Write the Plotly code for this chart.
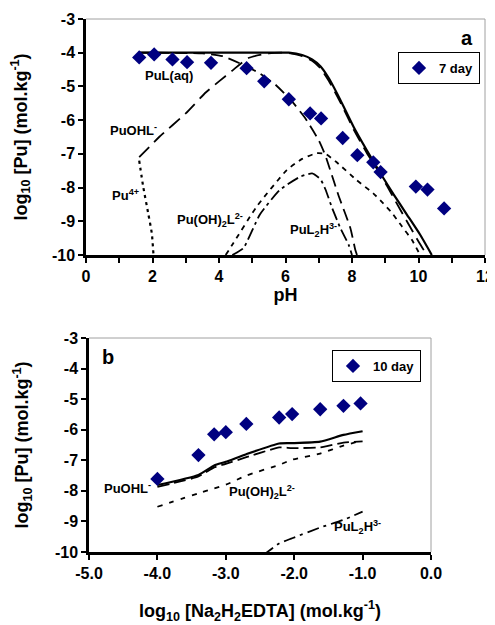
import plotly.graph_objects as go

# ---------------- Panel a: log10[Pu] vs pH ----------------
ph_obs = [1.6, 2.05, 2.6, 3.04, 3.76, 4.83, 5.36, 6.1, 6.74, 7.07, 7.72, 8.16, 8.64, 8.86, 9.92, 10.27, 10.77]
pu_obs7 = [-4.14, -4.05, -4.2, -4.28, -4.3, -4.46, -4.85, -5.38, -5.8, -5.95, -6.53, -7.04, -7.25, -7.54, -7.97, -8.06, -8.62]

ph_total = [1.6, 3.0, 4.5, 5.5, 6.1, 6.5, 6.8, 7.05, 7.3, 7.65, 8.05, 8.45, 8.9, 9.25, 9.65, 10.05, 10.4]
pu_total = [-4.0, -4.0, -4.0, -4.0, -4.0, -4.07, -4.2, -4.4, -4.75, -5.4, -6.2, -6.9, -7.65, -8.2, -8.8, -9.4, -10.0]

ph_puohl = [1.6, 2.2, 3.0, 3.6, 4.0, 4.4, 4.9, 5.5, 6.0, 6.5, 6.8, 7.05, 7.3, 7.65, 8.05, 8.45, 8.85, 9.25, 9.65, 10.0, 10.25]
pu_puohl = [-7.1, -6.5, -5.8, -5.18, -4.85, -4.53, -4.15, -4.02, -4.0, -4.1, -4.24, -4.46, -4.83, -5.47, -6.28, -6.98, -7.6, -8.3, -9.0, -9.6, -10.0]

ph_pul = [1.6, 3.5, 4.1, 4.7, 5.2, 5.7, 6.2, 6.6, 7.0, 7.2, 7.45, 7.6, 7.95, 8.1, 8.15]
pu_pul = [-4.0, -4.02, -4.1, -4.35, -4.6, -4.95, -5.45, -5.95, -6.6, -7.05, -7.8, -8.25, -9.2, -9.85, -10.0]

ph_pu4 = [1.6, 1.72, 1.87, 1.98, 2.03]
pu_pu4 = [-7.2, -7.97, -8.76, -9.36, -10.0]

ph_puoh2l = [4.2, 4.43, 5.13, 6.04, 6.5, 6.94, 7.2, 7.54, 8.14, 8.64, 8.94, 9.2, 9.5, 9.8, 10.05]
pu_puoh2l = [-10.0, -9.65, -8.57, -7.48, -7.15, -6.98, -7.0, -7.25, -7.78, -8.17, -8.47, -8.75, -9.15, -9.55, -10.0]

ph_pul2h = [4.4, 4.73, 5.23, 5.83, 6.44, 6.8, 7.05, 7.2, 7.4, 7.65, 7.9, 8.0]
pu_pul2h = [-10.0, -9.8, -8.8, -8.07, -7.68, -7.58, -7.75, -8.05, -8.6, -9.2, -9.7, -10.0]

# ---------------- Panel b: log10[Pu] vs log10[Na2H2EDTA] ----------------
edta_obs = [-4.0, -3.4, -3.17, -3.0, -2.7, -2.22, -2.03, -1.62, -1.28, -1.03]
pu_obs10 = [-7.61, -6.83, -6.15, -6.08, -5.81, -5.6, -5.49, -5.33, -5.22, -5.14]

edta_calc = [-4.0, -3.4, -3.17, -3.0, -2.7, -2.22, -2.03, -1.62, -1.28, -1.0]
pu_total_b = [-7.81, -7.48, -7.17, -7.05, -6.8, -6.45, -6.44, -6.39, -6.17, -6.05]
pu_puohl_b = [-7.87, -7.53, -7.23, -7.12, -6.9, -6.58, -6.6, -6.58, -6.42, -6.38]
pu_puoh2l_b = [-8.52, -8.08, -7.92, -7.8, -7.5, -7.15, -6.98, -6.78, -6.52, -6.35]

edta_pul2h = [-2.45, -2.22, -2.03, -1.62, -1.28, -1.0]
pu_pul2h_b = [-10.1, -9.72, -9.55, -9.2, -8.95, -8.68]

# ---------------- tick labels ----------------
y_ticks = [-10, -9, -8, -7, -6, -5, -4, -3]
y_ticklabels = ["-10", "-9", "-8", "-7", "-6", "-5", "-4", "-3"]
ph_ticks = [0, 2, 4, 6, 8, 10, 12]
ph_ticklabels = ["0", "2", "4", "6", "8", "10", "12"]
edta_ticks = [-5, -4, -3, -2, -1, 0]
edta_ticklabels = ["-5.0", "-4.0", "-3.0", "-2.0", "-1.0", "0.0"]

FONT = "Liberation Sans, Arial, sans-serif"
NAVY = "#000080"

fig = go.Figure()

def line(x, y, dash, xa, ya, width=1.8):
    fig.add_trace(go.Scatter(x=x, y=y, mode="lines", xaxis=xa, yaxis=ya,
                             line=dict(color="black", width=width, dash=dash, shape="spline", smoothing=0.5),
                             showlegend=False, hoverinfo="skip"))

# panel a lines
line(ph_total, pu_total, "solid", "x", "y", 2.2)
line(ph_puohl, pu_puohl, "14px,7px", "x", "y")
line(ph_pul, pu_pul, "12px,6px", "x", "y")
line(ph_pu4, pu_pu4, "3px,4px", "x", "y", 2.2)
line(ph_puoh2l, pu_puoh2l, "5px,5px", "x", "y")
line(ph_pul2h, pu_pul2h, "12px,4px,3px,4px", "x", "y")
fig.add_trace(go.Scatter(x=ph_obs, y=pu_obs7, mode="markers", name="7 day", xaxis="x", yaxis="y",
                         marker=dict(symbol="diamond", size=11, color=NAVY), legend="legend"))

# panel b lines
line(edta_calc, pu_total_b, "solid", "x2", "y2", 2.2)
line(edta_calc, pu_puohl_b, "12px,5px", "x2", "y2")
line(edta_calc, pu_puoh2l_b, "5px,7px", "x2", "y2")
line(edta_pul2h, pu_pul2h_b, "12px,5px,3px,5px", "x2", "y2")
fig.add_trace(go.Scatter(x=edta_obs, y=pu_obs10, mode="markers", name="10 day", xaxis="x2", yaxis="y2",
                         marker=dict(symbol="diamond", size=11, color=NAVY), legend="legend2"))

# the page body adds an 8px margin; size the figure to fit the window
OFF = 8
W, H = 495 - OFF, 625 - OFF

def px(x):
    return (x - OFF) / W

def py(y):
    return 1 - (y - OFF) / H

axfont = dict(family=FONT, size=16, color="black", weight="bold")
titlefont = dict(family=FONT, size=18, color="black", weight="bold")
common_y = dict(range=[-10, -3], tickvals=y_ticks, ticktext=y_ticklabels, showgrid=False, zeroline=False,
                showline=True, linecolor="black", linewidth=2.5, ticks="outside", ticklen=5, tickwidth=1.5,
                tickcolor="black", tickfont=axfont, automargin=False)

fig.update_layout(
    width=W, height=H,
    margin=dict(l=0, r=0, t=0, b=0),
    paper_bgcolor="white", plot_bgcolor="white",
    font=dict(family=FONT, color="black", weight="bold"),
    xaxis=dict(domain=[px(86), px(485)], anchor="y", range=[0, 12],
               tickvals=ph_ticks, ticktext=ph_ticklabels,
               showgrid=False, zeroline=False, showline=True, linecolor="black", linewidth=2.5,
               ticks="outside", ticklen=5, tickwidth=1.5, tickcolor="black", tickfont=axfont,
               minor=dict(tickvals=list(range(0, 13)), ticks="outside", ticklen=5, tickwidth=1.5,
                          tickcolor="black"),
               title=dict(text="pH", font=titlefont, standoff=0),
               automargin=False),
    yaxis=dict(domain=[py(255), py(19)], anchor="x",
               title=dict(text="log<sub>10</sub> [Pu] (mol.kg<sup>-1</sup>)", font=titlefont, standoff=22),
               **common_y),
    xaxis2=dict(domain=[px(89), px(431)], anchor="y2", range=[-5, 0],
                tickvals=edta_ticks, ticktext=edta_ticklabels,
                showgrid=False, zeroline=False, showline=True, linecolor="black", linewidth=2.5,
                ticks="outside", ticklen=5, tickwidth=1.5, tickcolor="black", tickfont=axfont,
                title=dict(text="log<sub>10</sub> [Na<sub>2</sub>H<sub>2</sub>EDTA] (mol.kg<sup>-1</sup>)",
                           font=titlefont, standoff=24),
                automargin=False),
    yaxis2=dict(domain=[py(552), py(338)], anchor="x2",
                title=dict(text="log<sub>10</sub> [Pu] (mol.kg<sup>-1</sup>)", font=titlefont, standoff=22),
                **common_y),
    legend=dict(x=px(480), y=py(52), xanchor="right", yanchor="top",
                bordercolor="black", borderwidth=1, bgcolor="white",
                font=dict(family=FONT, size=13, weight="bold"), itemwidth=30),
    legend2=dict(x=px(421), y=py(350), xanchor="right", yanchor="top",
                 bordercolor="black", borderwidth=1, bgcolor="white",
                 font=dict(family=FONT, size=13, weight="bold"), itemwidth=30),
    showlegend=True,
)

# thin grey top/right frame lines
for xr, yr in (("x", "y"), ("x2", "y2")):
    fig.add_shape(type="line", xref=f"{xr} domain", yref=f"{yr} domain", x0=0, x1=1, y0=1, y1=1,
                  line=dict(color="#a0a0a0", width=1))
    fig.add_shape(type="line", xref=f"{xr} domain", yref=f"{yr} domain", x0=1, x1=1, y0=0, y1=1,
                  line=dict(color="#a0a0a0", width=1))

lab = dict(family=FONT, size=13, color="black", weight="bold")
annots = [
    ("x", "y", 2.5, -4.69, "PuL(aq)", lab),
    ("x", "y", 1.44, -6.29, "PuOHL<sup>-</sup>", lab),
    ("x", "y", 1.2, -8.22, "Pu<sup>4+</sup>", lab),
    ("x", "y", 3.73, -8.96, "Pu(OH)<sub>2</sub>L<sup>2-</sup>", lab),
    ("x", "y", 6.83, -9.26, "PuL<sub>2</sub>H<sup>3-</sup>", lab),
    ("x", "y", 11.46, -3.56, "a", dict(family=FONT, size=20, color="black", weight="bold")),
    ("x2", "y2", -4.44, -7.91, "PuOHL<sup>-</sup>", lab),
    ("x2", "y2", -2.47, -8.04, "Pu(OH)<sub>2</sub>L<sup>2-</sup>", lab),
    ("x2", "y2", -1.08, -9.18, "PuL<sub>2</sub>H<sup>3-</sup>", lab),
    ("x2", "y2", -4.72, -3.62, "b", dict(family=FONT, size=20, color="black", weight="bold")),
]
for xr, yr, x, y, t, f in annots:
    fig.add_annotation(xref=xr, yref=yr, x=x, y=y, text=t, showarrow=False, font=f)

fig.write_html("out.html")
